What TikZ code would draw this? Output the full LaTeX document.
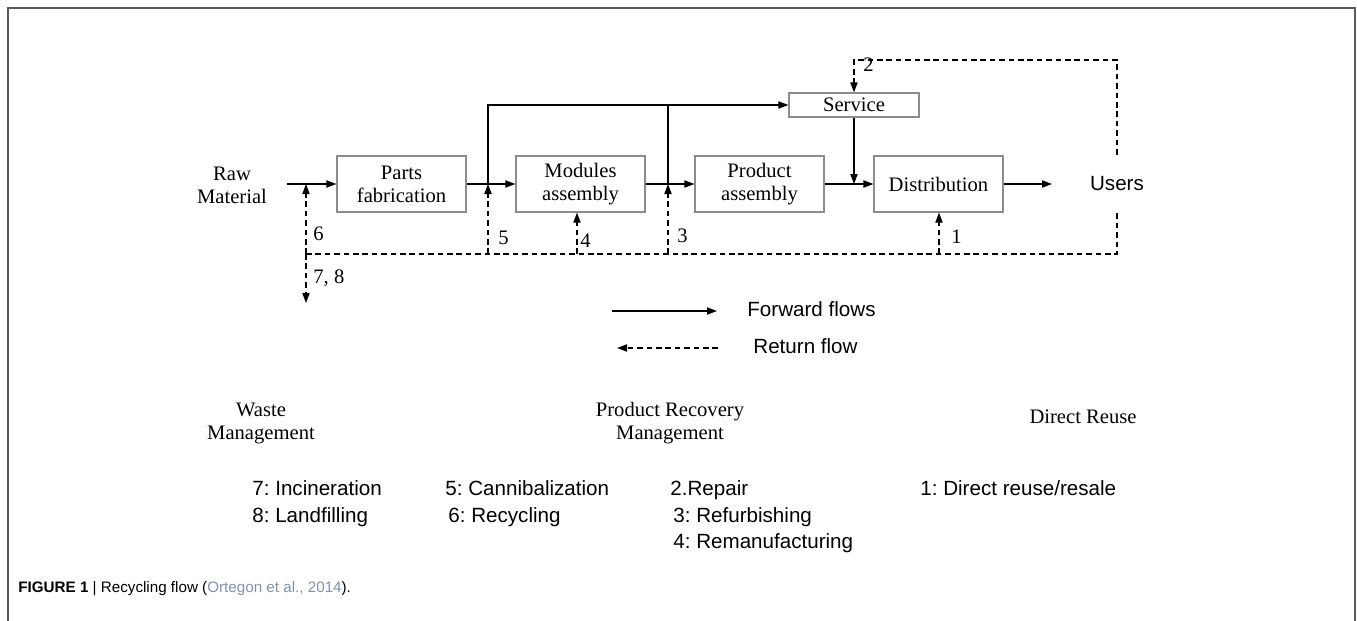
\documentclass[tikz,border=0pt]{standalone}
\usepackage{fontspec}
\setmainfont{Liberation Serif}
\setsansfont{Liberation Sans}
\usetikzlibrary{arrows.meta}
\definecolor{boxgray}{HTML}{8C8C8C}
\definecolor{framegray}{HTML}{5A5A5A}
\definecolor{citeblue}{HTML}{7F93AD}
\frenchspacing
\begin{document}
\begin{tikzpicture}[x=0.5pt,y=-0.5pt,
  box/.style={draw=boxgray, line width=0.6pt, minimum width=64.5pt, minimum height=28pt, inner sep=0pt, align=center, font=\fontsize{10.3}{11.5}\selectfont},
  svc/.style={box, minimum height=12pt, minimum width=65pt},
  serif/.style={inner sep=0pt, align=center, font=\fontsize{10.3}{11.5}\selectfont},
  lbl/.style={inner sep=0pt, anchor=west, font=\fontsize{10.3}{11.5}\selectfont},
  sanstxt/.style={inner sep=0pt, anchor=west, text height=7.4pt, text depth=2.2pt, font=\sffamily\fontsize{10.3}{12}\selectfont},
  fwd/.style={line width=0.6pt, -{Triangle[length=5pt,width=3.6pt]}},
  plain/.style={line width=0.6pt},
  ret/.style={line width=0.6pt, dash pattern=on 2.8pt off 1.9pt},
  reta/.style={ret, -{Triangle[length=5pt,width=3.6pt]}}
]
\useasboundingbox (0,0) rectangle (1357,621);
% frame
\draw[framegray, line width=0.8pt] (8,621) -- (8,8) -- (1355,8) -- (1355,621);

% boxes
\node[box] (parts) at (401.5,184) {Parts\\fabrication};
\node[box] (modules) at (580.5,184) {Modules\\assembly};
\node[box] (product) at (759.5,184) {Product\\assembly};
\node[box] (dist) at (938.5,184) {Distribution};
\node[svc] (service) at (854,105) {Service};
\node[serif] (raw) at (232,185) {Raw\\Material};
\node[inner sep=0pt, minimum height=29pt, font=\sffamily\fontsize{10.3}{12}\selectfont] (users) at (1117,184) {Users};

% coordinates
\coordinate (rawstart) at (287,184);
\coordinate (j0) at (306,184);
\coordinate (j1) at (488,184);
\coordinate (j3) at (668,184);
\coordinate (j2) at (854,184);
\coordinate (uend) at (1052,184);
\coordinate (c6) at (306,254);
\coordinate (c78) at (306,303);
\coordinate (c4) at (577,254);
\coordinate (c1) at (939,254);
\coordinate (top2) at (854,60);

% forward flows
\draw[fwd] (rawstart) -- (parts.west);
\draw[fwd] (parts.east) -- (modules.west);
\draw[fwd] (modules.east) -- (product.west);
\draw[fwd] (product.east) -- (dist.west);
\draw[fwd] (dist.east) -- (uend);
\draw[fwd] (j1) |- (service.west);
\draw[plain] (j3) -- (j3 |- service.west);
\draw[fwd] (service.south) -- (j2);

% return flows
\draw[reta] (users.north) |- (top2) -- (service.north);
\draw[ret] (users.south) |- (c6);
\draw[reta] (c6) -- (j0);
\draw[reta] (c6) -- (c78);
\draw[reta] (j1 |- c6) -- (j1);
\draw[reta] (c4) -- (c4 |- modules.south);
\draw[reta] (j3 |- c6) -- (j3);
\draw[reta] (c1) -- (c1 |- dist.south);

% labels
\node[lbl] (l6) at (313,234) {6};
\node[lbl] (l78) at (313,278) {7, 8};
\node[lbl] (l5) at (498,238) {5};
\node[lbl] (l4) at (580,241) {4};
\node[lbl] (l3) at (677,236) {3};
\node[lbl] (l1) at (951,237) {1};
\node[lbl] (l2) at (863,65) {2};

% legend
\coordinate (lf1) at (612,311);
\coordinate (lf2) at (717,311);
\coordinate (lr1) at (718,348);
\coordinate (lr2) at (617,348);
\draw[fwd] (lf1) -- (lf2);
\draw[reta] (lr1) -- (lr2);
\node[sanstxt] (fwdtxt) at (747,311) {Forward flows};
\node[sanstxt] (rettxt) at (753,348) {Return flow};

% categories
\node[serif] (waste) at (261,423) {Waste\\Management};
\node[serif] (prm) at (670,423) {Product Recovery\\Management};
\node[serif] (dr) at (1083,417) {Direct Reuse};

\node[sanstxt] (i7) at (252,490) {7: Incineration};
\node[sanstxt] (i8) at (252,517) {8: Landfilling};
\node[sanstxt] (i5) at (445,490) {5: Cannibalization};
\node[sanstxt] (i6) at (448,517) {6: Recycling};
\node[sanstxt] (i2) at (670,490) {2.Repair};
\node[sanstxt] (i3) at (673,517) {3: Refurbishing};
\node[sanstxt] (i4) at (673,543) {4: Remanufacturing};
\node[sanstxt] (i1) at (920,490) {1: Direct reuse/resale};

% caption
\node[inner sep=0pt, anchor=west, font=\sffamily\fontsize{7.6}{9}\selectfont] (cap) at (18,589)
  {\textbf{FIGURE 1} {\color{black}|} Recycling flow ({\color{citeblue}Ortegon et al., 2014}).};
\end{tikzpicture}
\end{document}
